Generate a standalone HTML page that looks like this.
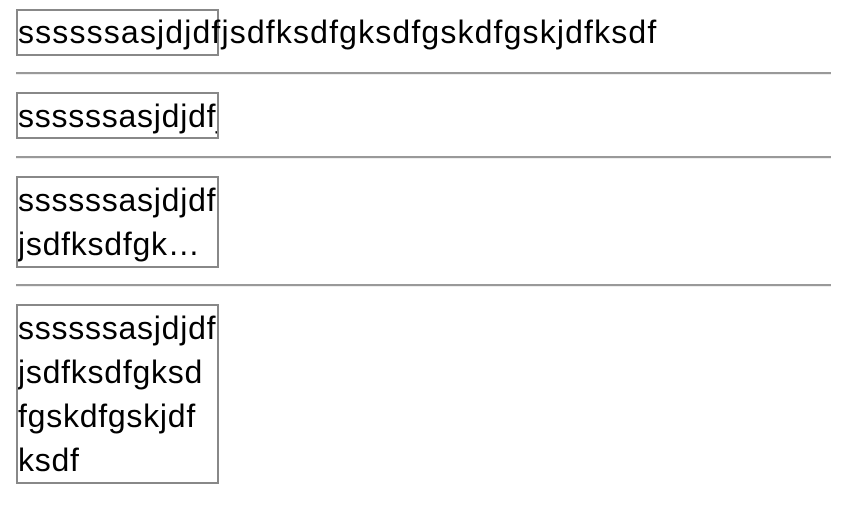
<!DOCTYPE html>
<html><head><style>
body{margin:0;width:846px;height:518px;background:#fff;position:relative;overflow:hidden;font-family:"Liberation Sans",sans-serif;font-size:32px;letter-spacing:1.15px;color:#000}
.b{position:absolute;left:16px;width:199px;border:2px solid #888;line-height:44px;white-space:nowrap}
.c{overflow:hidden;letter-spacing:0.75px}
.hr{position:absolute;left:16px;width:815px;height:2px;background:#999;border-bottom:1px solid #eee}
.t{position:absolute;left:18px;white-space:nowrap;line-height:44px}
</style></head><body>
<div class="b" style="top:9px;height:43px"></div>
<div class="t" style="top:10px;">ssssssasjdjdfjsdfksdfgksdfgskdfgskjdfksdf</div>
<div class="hr" style="top:72px"></div>
<div class="b c" style="top:92px;height:43px">ssssssasjdjdfj</div>
<div class="hr" style="top:156px"></div>
<div class="b c" style="top:176px;height:88px">ssssssasjdjdf<br>jsdfksdfgk…</div>
<div class="hr" style="top:284px"></div>
<div class="b c" style="top:304px;height:176px">ssssssasjdjdf<br>jsdfksdfgksd<br>fgskdfgskjdf<br>ksdf</div>
</body></html>
